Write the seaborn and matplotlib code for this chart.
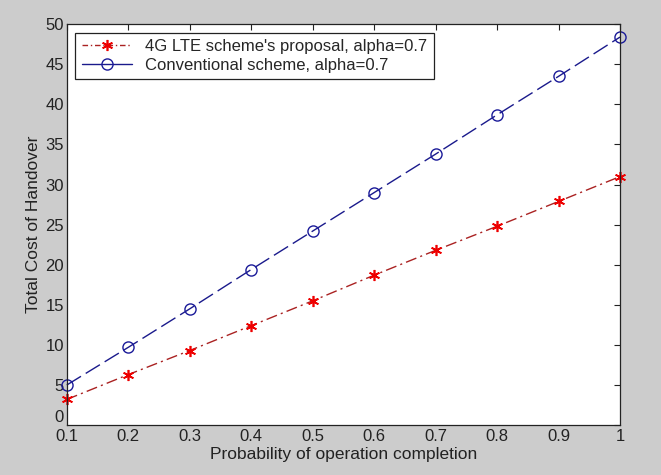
import matplotlib
matplotlib.use("Agg")
import matplotlib.pyplot as plt
import seaborn as sns
import pandas as pd

prob = [0.1, 0.2, 0.3, 0.4, 0.5, 0.6, 0.7, 0.8, 0.9, 1.0]
lte_cost = [3.2, 6.3, 9.3, 12.4, 15.5, 18.7, 21.8, 24.8, 27.9, 31.0]
conv_cost = [5.0, 9.7, 14.5, 19.4, 24.2, 29.0, 33.8, 38.7, 43.5, 48.4]
x_ticks = [0.1, 0.2, 0.3, 0.4, 0.5, 0.6, 0.7, 0.8, 0.9, 1]
x_tick_labels = ["0.1", "0.2", "0.3", "0.4", "0.5", "0.6", "0.7", "0.8", "0.9", "1"]
y_ticks = [0, 5, 10, 15, 20, 25, 30, 35, 40, 45, 50]
label_lte = "4G LTE scheme's proposal, alpha=0.7"
label_conv = "Conventional scheme, alpha=0.7"

sns.set_theme(style="white")
plt.rcParams['font.family'] = ['Liberation Sans', 'DejaVu Sans']

df = pd.DataFrame({"prob": prob, "lte": lte_cost, "conv": conv_cost})

fig = plt.figure(figsize=(6.61, 4.75), dpi=100, facecolor="#cccccc")
ax = fig.add_axes([0.101, 0.105, 0.837, 0.844])
ax.set_facecolor("white")

sns.lineplot(data=df, x="prob", y="lte", ax=ax, color="#aa2222", marker=(6, 2, 0),
             markersize=8, markeredgecolor="#ee0000", markerfacecolor="#ee0000",
             markeredgewidth=1.2, linewidth=1.0, label=label_lte, clip_on=False)
ax.lines[-1].set_dashes([8, 3, 1.5, 3])
sns.lineplot(data=df, x="prob", y="conv", ax=ax, color="#1a1a8c", marker="o",
             markersize=8, markerfacecolor="none", markeredgecolor="#1a1a99",
             markeredgewidth=1.0, linewidth=1.0, label=label_conv, clip_on=False)
ax.lines[-1].set_dashes([12, 4])

ax.set_xlim(0.1, 1.0)
ax.set_ylim(0, 50)
ax.set_xticks(x_ticks)
ax.set_xticklabels(x_tick_labels)
ax.set_yticks(y_ticks)
ax.tick_params(direction="in", length=4, width=0.8, top=True, right=True,
               labelsize=12, colors="#222222", pad=2)
ax.tick_params(axis="x", pad=3)
ax.get_yticklabels()[0].set_va("bottom")
for s in ax.spines.values():
    s.set_color("#222222")
    s.set_linewidth(0.9)
ax.set_xlabel("Probability of operation completion", fontsize=12.5, color="#222222", labelpad=2)
ax.set_ylabel("Total Cost of Handover", fontsize=12.5, color="#222222", labelpad=3)

leg = ax.legend(loc="upper left", fontsize=12, frameon=True, fancybox=False,
                edgecolor="#222222", framealpha=1, borderaxespad=0.5,
                handlelength=3.0, borderpad=0.4, labelspacing=0.2)
leg.get_frame().set_linewidth(0.9)
lines = leg.get_lines()
lines[0].set_dashes([4, 2, 1, 2])
lines[1].set_linestyle("-")

fig.savefig("out.png", dpi=100, facecolor=fig.get_facecolor())
